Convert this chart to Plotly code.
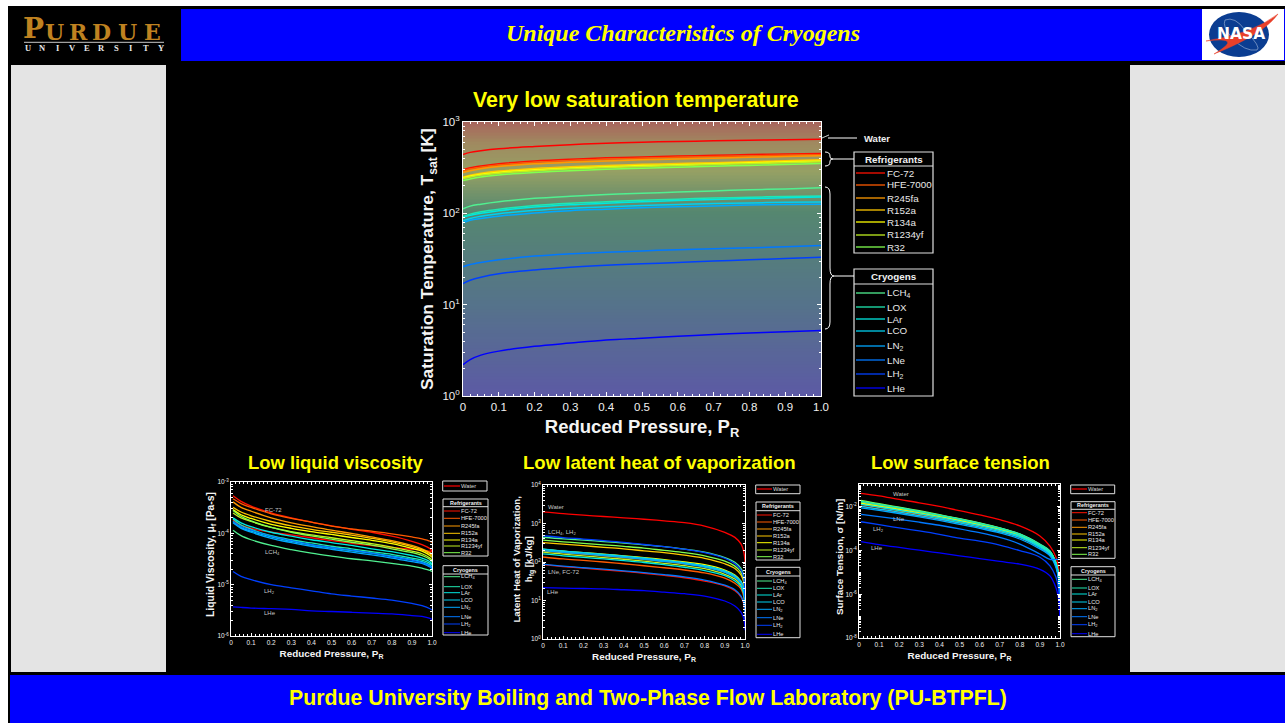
import numpy as np
import plotly.graph_objects as go

W, H = 1285, 723

# ---------- DATA ----------
names = ["Water", "FC-72", "HFE-7000", "R245fa", "R152a", "R134a", "R1234yf", "R32",
         "LCH<sub>4</sub>", "LOX", "LAr", "LCO", "LN<sub>2</sub>", "LNe", "LH<sub>2</sub>", "LHe"]
refrigerants = names[1:8]
cryogens = names[8:]
colors = ["#ff0000", "#ff1000", "#ff5a00", "#ff9a00", "#ffc800", "#ffff00", "#c0f020", "#80ff50",
          "#50f090", "#20e8b0", "#00e8e0", "#00d0f0", "#00a8ff", "#0078ff", "#0040ff", "#0000ff"]

x_ticks = [0, 0.1, 0.2, 0.3, 0.4, 0.5, 0.6, 0.7, 0.8, 0.9, 1.0]
x_labels = ["0", "0.1", "0.2", "0.3", "0.4", "0.5", "0.6", "0.7", "0.8", "0.9", "1.0"]

# Saturation temperature [K]
pr_t = [0, 0.02, 0.05, 0.1, 0.2, 0.3, 0.4, 0.5, 0.6, 0.7, 0.8, 0.9, 1.0]
t_water = [440, 465, 485, 510, 540, 565, 585, 600, 612, 622, 632, 640, 647]
t_fc72 = [300, 315, 330, 350, 375, 392, 405, 415, 424, 432, 440, 446, 451]
t_hfe = [290, 305, 320, 338, 362, 378, 392, 402, 410, 418, 425, 432, 438]
t_r245 = [280, 293, 308, 325, 348, 363, 375, 385, 394, 402, 410, 419, 427]
t_r152 = [250, 262, 275, 290, 310, 324, 335, 344, 352, 359, 368, 377, 386]
t_r134 = [245, 256, 268, 282, 300, 313, 324, 333, 341, 349, 358, 366, 374]
t_r1234 = [240, 250, 262, 275, 293, 307, 317, 326, 334, 342, 350, 358, 367]
t_r32 = [228, 238, 250, 263, 280, 293, 303, 311, 319, 327, 335, 343, 351]
t_lch4 = [112, 120, 126, 134, 146, 154, 161, 166, 171, 176, 181, 185, 190]
t_lox = [92, 98, 104, 111, 122, 129, 134, 139, 143, 147, 150, 153, 155]
t_lar = [90, 95, 100, 107, 117, 124, 129, 134, 138, 142, 145, 148, 151]
t_lco = [83, 88, 93, 99, 108, 114, 118, 122, 125, 128, 130, 132, 133]
t_ln2 = [79, 84, 88, 93, 101, 107, 111, 115, 118, 120, 123, 125, 126]
t_lne = [26, 27.5, 29, 31, 34, 36, 37.5, 38.8, 40, 41, 42, 43, 44.4]
t_lh2 = [17, 18.5, 20, 21.8, 24, 25.7, 27, 28, 29, 30, 31, 32, 33]
t_lhe = [2.2, 2.5, 2.8, 3.1, 3.5, 3.8, 4.1, 4.3, 4.5, 4.7, 4.9, 5.05, 5.2]
tsat = [t_water, t_fc72, t_hfe, t_r245, t_r152, t_r134, t_r1234, t_r32,
        t_lch4, t_lox, t_lar, t_lco, t_ln2, t_lne, t_lh2, t_lhe]

# Liquid viscosity [1e-4 Pa s]
pr_v = [0.01, 0.05, 0.1, 0.2, 0.3, 0.4, 0.5, 0.6, 0.7, 0.8, 0.9, 0.95, 0.99, 1.0]
v_water = [1.8, 1.45, 1.25, 1.05, 0.93, 0.82, 0.72, 0.64, 0.58, 0.53, 0.49, 0.47, 0.45, 0.44]
v_fc72 = [5.4, 4.2, 3.4, 2.5, 2.0, 1.65, 1.4, 1.2, 1.05, 0.88, 0.7, 0.6, 0.5, 0.45]
v_hfe = [4.7, 3.8, 3.2, 2.4, 1.95, 1.65, 1.38, 1.22, 1.1, 0.98, 0.85, 0.78, 0.7, 0.66]
v_r245 = [4.1, 3.2, 2.7, 2.0, 1.6, 1.35, 1.15, 1.0, 0.85, 0.72, 0.58, 0.5, 0.42, 0.39]
v_r152 = [3.2, 2.6, 2.2, 1.7, 1.4, 1.2, 1.05, 0.92, 0.8, 0.68, 0.55, 0.48, 0.4, 0.37]
v_r134 = [2.9, 2.3, 1.95, 1.5, 1.25, 1.08, 0.95, 0.83, 0.73, 0.63, 0.51, 0.45, 0.37, 0.34]
v_r1234 = [2.5, 2.0, 1.7, 1.3, 1.08, 0.93, 0.82, 0.72, 0.63, 0.54, 0.45, 0.4, 0.33, 0.3]
v_r32 = [2.8, 2.15, 1.75, 1.3, 1.05, 0.89, 0.77, 0.67, 0.59, 0.5, 0.42, 0.37, 0.31, 0.28]
v_lch4 = [1.15, 0.9, 0.75, 0.58, 0.48, 0.41, 0.36, 0.32, 0.29, 0.26, 0.23, 0.21, 0.19, 0.18]
v_lox = [1.9, 1.45, 1.2, 0.9, 0.75, 0.65, 0.56, 0.5, 0.44, 0.39, 0.33, 0.3, 0.26, 0.24]
v_lar = [2.0, 1.6, 1.35, 1.05, 0.88, 0.75, 0.66, 0.58, 0.5, 0.44, 0.37, 0.33, 0.28, 0.25]
v_lco = [1.7, 1.3, 1.1, 0.85, 0.7, 0.6, 0.52, 0.46, 0.41, 0.36, 0.31, 0.28, 0.24, 0.22]
v_ln2 = [1.6, 1.25, 1.05, 0.8, 0.66, 0.56, 0.49, 0.43, 0.38, 0.33, 0.28, 0.26, 0.22, 0.2]
v_lne = [1.7, 1.35, 1.15, 0.88, 0.72, 0.6, 0.53, 0.47, 0.41, 0.35, 0.3, 0.27, 0.23, 0.21]
v_lh2 = [0.18, 0.145, 0.125, 0.1, 0.087, 0.076, 0.066, 0.06, 0.055, 0.05, 0.043, 0.039, 0.034, 0.032]
v_lhe = [0.037, 0.036, 0.035, 0.034, 0.033, 0.031, 0.03, 0.029, 0.028, 0.027, 0.025, 0.024, 0.022, 0.021]
visc = [v_water, v_fc72, v_hfe, v_r245, v_r152, v_r134, v_r1234, v_r32,
        v_lch4, v_lox, v_lar, v_lco, v_ln2, v_lne, v_lh2, v_lhe]

# Latent heat [kJ/kg]
pr_h = [0, 0.1, 0.2, 0.3, 0.4, 0.5, 0.6, 0.7, 0.8, 0.9, 0.95, 0.98, 0.99, 0.995, 0.999, 1.0]
h_water = [2000, 1800, 1650, 1520, 1400, 1290, 1170, 1050, 860, 590, 436, 295, 220, 170, 120, 100]
h_fc72 = [85, 76, 69, 63, 57, 51, 45, 39, 32, 24, 18, 12.5, 9.5, 7.5, 5, 3]
h_hfe = [135, 120, 110, 100, 90, 80, 71, 62, 52, 38, 28, 20, 15, 12, 7, 4.5]
h_r245 = [195, 175, 160, 145, 130, 118, 104, 90, 76, 55, 41, 29, 22, 17, 10, 6]
h_r152 = [320, 290, 265, 240, 220, 195, 175, 150, 125, 90, 68, 46, 35, 28, 15, 10]
h_r134 = [215, 190, 175, 160, 145, 130, 115, 100, 85, 62, 46, 32, 24, 19, 12, 7]
h_r1234 = [180, 160, 145, 130, 118, 105, 92, 80, 67, 48, 36, 25, 19, 15, 9, 6]
h_r32 = [370, 335, 305, 280, 255, 230, 200, 175, 145, 105, 78, 54, 41, 32, 18, 12]
h_lch4 = [440, 400, 370, 340, 310, 280, 250, 215, 180, 130, 98, 68, 52, 41, 23, 15]
h_lox = [212, 190, 172, 155, 140, 125, 110, 95, 78, 57, 42, 30, 22, 18, 10, 6.5]
h_lar = [162, 145, 132, 120, 108, 97, 85, 73, 60, 44, 32, 23, 17, 14, 8, 5]
h_lco = [215, 192, 175, 158, 142, 126, 110, 96, 80, 59, 44, 31, 23, 18, 10, 7]
h_ln2 = [198, 178, 162, 147, 132, 118, 103, 90, 74, 54, 40, 28, 22, 17, 9, 6]
h_lne = [88, 78, 71, 65, 59, 53, 47, 41, 34, 25, 19, 13, 10, 8, 5, 3]
h_lh2 = [480, 430, 395, 360, 325, 285, 250, 215, 175, 125, 90, 62, 47, 37, 19, 12]
h_lhe = [21.5, 21, 20.5, 20, 19, 18, 16.5, 15, 13, 9.7, 7.2, 5, 3.9, 3.2, 2.2, 1.7]
latent = [h_water, h_fc72, h_hfe, h_r245, h_r152, h_r134, h_r1234, h_r32,
          h_lch4, h_lox, h_lar, h_lco, h_ln2, h_lne, h_lh2, h_lhe]

# Surface tension [1e-3 N/m]
pr_s = [0.01, 0.1, 0.2, 0.3, 0.4, 0.5, 0.6, 0.7, 0.8, 0.9, 0.95, 0.98, 0.99, 0.995, 0.999, 1.0]
s_water = [42, 32, 22, 15.5, 10.5, 6.8, 4.3, 2.6, 1.35, 0.47, 0.16, 0.05, 0.022, 0.011, 0.0045, 0.004]
s_fc72 = [11, 8, 5.6, 3.9, 2.7, 1.85, 1.2, 0.75, 0.4, 0.14, 0.066, 0.02, 0.008, 0.004, 0.001, 0.0005]
s_hfe = [13, 9.5, 6.7, 4.6, 3.1, 2.1, 1.35, 0.82, 0.43, 0.15, 0.07, 0.021, 0.009, 0.004, 0.001, 0.0005]
s_r245 = [14, 10.2, 7.2, 5, 3.4, 2.3, 1.45, 0.9, 0.47, 0.16, 0.077, 0.022, 0.009, 0.004, 0.0011, 0.0006]
s_r152 = [15, 11, 7.8, 5.4, 3.6, 2.4, 1.55, 0.95, 0.5, 0.17, 0.084, 0.024, 0.01, 0.0045, 0.0012, 0.0006]
s_r134 = [14.5, 10.5, 7.5, 5.2, 3.5, 2.35, 1.5, 0.92, 0.48, 0.165, 0.08, 0.022, 0.009, 0.0042, 0.0011, 0.0006]
s_r1234 = [17, 12.2, 8.6, 5.9, 4, 2.65, 1.7, 1.02, 0.53, 0.18, 0.087, 0.025, 0.011, 0.0046, 0.0012, 0.0007]
s_r32 = [20, 14, 9.8, 6.7, 4.4, 2.9, 1.85, 1.1, 0.57, 0.19, 0.092, 0.027, 0.011, 0.005, 0.0012, 0.0007]
s_lch4 = [17, 12.5, 9, 6.2, 4.2, 2.8, 1.8, 1.1, 0.58, 0.2, 0.098, 0.028, 0.012, 0.005, 0.0012, 0.0008]
s_lox = [18, 13, 9.2, 6.3, 4.2, 2.75, 1.75, 1.05, 0.55, 0.19, 0.091, 0.027, 0.011, 0.005, 0.0012, 0.0007]
s_lar = [13, 9.8, 7, 4.9, 3.3, 2.2, 1.42, 0.87, 0.46, 0.16, 0.077, 0.022, 0.0095, 0.004, 0.0011, 0.0006]
s_lco = [10.5, 8, 5.8, 4, 2.8, 1.85, 1.2, 0.75, 0.4, 0.14, 0.066, 0.02, 0.008, 0.0036, 0.001, 0.0005]
s_ln2 = [9, 6.9, 5, 3.5, 2.4, 1.6, 1.05, 0.65, 0.34, 0.12, 0.058, 0.017, 0.007, 0.0032, 0.0009, 0.0005]
s_lne = [4.6, 3.6, 2.7, 2, 1.45, 1.0, 0.66, 0.4, 0.2, 0.07, 0.04, 0.04, 0.04, 0.04, 0.04, 0.04]
s_lh2 = [2.1, 1.55, 1.1, 0.8, 0.56, 0.37, 0.27, 0.18, 0.1, 0.05, 0.02, 0.006, 0.0025, 0.0011, 0.0003, 0.0002]
s_lhe = [0.26, 0.19, 0.14, 0.105, 0.078, 0.058, 0.043, 0.032, 0.024, 0.014, 0.007, 0.002, 0.0009, 0.0004, 0.0001, 0.00008]
sigma = [s_water, s_fc72, s_hfe, s_r245, s_r152, s_r134, s_r1234, s_r32,
         s_lch4, s_lox, s_lar, s_lco, s_ln2, s_lne, s_lh2, s_lhe]

# Background gradient of the main chart: exponent -> colour
grad_stops = [(0.0, "#5c5aa5"), (0.34, "#55738a"), (0.67, "#558770"), (0.82, "#96a064"),
              (0.92, "#a08a60"), (1.0, "#a8645c")]
grad_exp = list(np.linspace(0, 3, 91))

FONT = "Liberation Sans"


def px(x):
    return x / W


def py(y):
    return 1 - y / H


shapes = []
ann = []


def rect(x0, y0, x1, y1, fill, line=None, lw=1):
    shapes.append(dict(type="rect", xref="paper", yref="paper", layer="below",
                       x0=px(x0), x1=px(x1), y0=py(y0), y1=py(y1), fillcolor=fill,
                       line=dict(color=line or fill, width=lw if line else 0)))


def seg(x0, y0, x1, y1, col="white", lw=1, layer="above"):
    shapes.append(dict(type="line", xref="paper", yref="paper", layer=layer,
                       x0=px(x0), x1=px(x1), y0=py(y0), y1=py(y1), line=dict(color=col, width=lw)))


def path(pts_cmd, col="white", lw=1, fill=None, layer="above"):
    # pts_cmd: list of (cmd, [(x, y), ...]) in page pixels
    s = ""
    for cmd, pts in pts_cmd:
        s += cmd + " " + " ".join(f"{px(a):.5f},{py(b):.5f}" for a, b in pts) + " "
    if fill:
        s += "Z"
    shapes.append(dict(type="path", xref="paper", yref="paper", layer=layer, path=s,
                       fillcolor=fill or "rgba(0,0,0,0)",
                       line=dict(color=col, width=lw)))


def text(x, y, t, size=11, col="white", family=FONT, anchor="center", yanchor="middle", angle=0):
    ann.append(dict(xref="paper", yref="paper", x=px(x), y=py(y), text=t, showarrow=False,
                    font=dict(family=family, size=size, color=col), xanchor=anchor, yanchor=yanchor,
                    textangle=angle, borderpad=0, borderwidth=0))


# ---------- PAGE ----------
rect(8, 6, W, H, "#000000")
rect(181, 9, W, 61, "#0000ff")
rect(1202, 9, W - 1, 60, "#ffffff")
rect(10, 675, W, H, "#0000ff")
rect(11, 65, 166, 672, "#e4e4e4")
rect(1130, 65, W, 672, "#e4e4e4")

text(683, 33, "<b><i>Unique Characteristics of Cryogens</i></b>", 24, "#ffff00", "Liberation Serif")
text(647.5, 698, "<b>Purdue University Boiling and Two-Phase Flow Laboratory (PU-BTPFL)</b>", 21.3, "#ffff00")

# Purdue wordmark
GOLD = "#bf8220"
for lx, ch, sz in [(33, "P", 28), (54, "U", 22), (78, "R", 22), (101, "D", 22), (127, "U", 22), (152, "E", 22)]:
    text(lx, 45, "<b>" + ch + "</b>", sz, GOLD, "DejaVu Serif", yanchor="bottom")
for i, ch in enumerate("UNIVERSITY"):
    text(28 + i * 14.75, 48, "<b>" + ch + "</b>", 8.5, "#e8e8e8", "Liberation Serif")
seg(24, 42.3, 164, 42.3, "#a0a0a0", 1.2)

# NASA logo
shapes.append(dict(type="circle", xref="paper", yref="paper", x0=px(1209), x1=px(1269), y0=py(57), y1=py(12),
                   fillcolor="#0b3d91", line=dict(width=0)))
path([("M", [(1225, 20)]), ("Q", [(1235, 16), (1245, 30)]), ("Q", [(1262, 48), (1257, 50)]),
      ("Q", [(1245, 52), (1232, 38)]), ("Q", [(1222, 26), (1225, 20)])], "#a8bcdc", 0.6)
path([("M", [(1206, 41)]), ("Q", [(1252, 34), (1278, 14)]), ("Q", [(1264, 34), (1214, 54)]),
      ("Q", [(1245, 36), (1206, 41)])], "#e8402a", 0.5, "#e8402a")
text(1240.5, 34, "<b>NASA</b>", 15.5, "white", "DejaVu Sans")


# ---------- CHARTS ----------
def ax_common(dom, anchor, size):
    return dict(domain=dom, anchor=anchor, showgrid=False, zeroline=False, showline=True, automargin=False,
                linecolor="white", linewidth=1, mirror="allticks", ticks="inside",
                tickcolor="white", color="white", tickfont=dict(family=FONT, size=size, color="#f0f0f0"))


fig = go.Figure()

layouts = {}


def chart(idx, box, xs, series, yrange, ytvals, ytext, xtitle_size, tick_size, xstand, shape, lw):
    x0, y0, x1, y1 = box
    s = "" if idx == 1 else str(idx)
    xa = ax_common([px(x0), px(x1)], "y" + s, tick_size)
    xa.update(range=[0, 1], tickvals=x_ticks, ticktext=x_labels, ticklen=4 if idx == 1 else 3,
              title=dict(text="<b>Reduced Pressure, P<sub>R</sub></b>", standoff=xstand,
                         font=dict(family=FONT, size=xtitle_size, color="#f4f4f4")),
              minor=dict(ticks="inside", ticklen=2, tickcolor="white", dtick=0.02))
    ya = ax_common([py(y1), py(y0)], "x" + s, tick_size)
    ya.update(type="log", range=yrange, tickvals=ytvals, ticktext=ytext, ticklen=4 if idx == 1 else 3,
              minor=dict(ticks="inside", ticklen=2, tickcolor="white", dtick="D1"))
    layouts["xaxis" + s] = xa
    layouts["yaxis" + s] = ya
    for nm, col, vals in zip(names, colors, series):
        fig.add_trace(go.Scatter(x=xs, y=vals, mode="lines", name=nm.replace("<sub>", "").replace("</sub>", ""),
                                 line=dict(color=col, width=lw, shape=shape), showlegend=False,
                                 xaxis="x" + s, yaxis="y" + s, cliponaxis=True))


# Main gradient
fig.add_trace(go.Heatmap(x=[0, 1], y=[10 ** e for e in grad_exp],
                         z=[[e / 3, e / 3] for e in grad_exp], zmin=0, zmax=1,
                         colorscale=[[a, c] for a, c in grad_stops], showscale=False,
                         xaxis="x", yaxis="y", hoverinfo="skip"))

chart(1, (463, 122, 821, 396), pr_t, tsat, [0, 3], [1, 10, 100, 1000],
      ["10<sup>0</sup>", "10<sup>1</sup>", "10<sup>2</sup>", "10<sup>3</sup>"], 18.5, 11.5, 8, "spline", 1.5)

chart(2, (231, 482, 432, 636), pr_v,
      [[v * 1e-4 for v in c] for c in visc], [-6, -3], [1e-6, 1e-5, 1e-4, 1e-3],
      ["10<sup>-6</sup>", "10<sup>-5</sup>", "10<sup>-4</sup>", "10<sup>-3</sup>"], 9.9, 6.5, 5, "spline", 1.3)

chart(3, (543, 485, 745, 639), pr_h, latent, [0, 4], [1, 10, 100, 1000, 10000],
      ["10<sup>0</sup>", "10<sup>1</sup>", "10<sup>2</sup>", "10<sup>3</sup>", "10<sup>4</sup>"],
      9.9, 6.5, 5, "spline", 1.3)

chart(4, (859, 484, 1060, 638), pr_s, [[v * 1e-3 for v in c] for c in sigma], [-8, -0.95],
      [1e-8, 1e-6, 1e-4, 1e-2],
      ["10<sup>-8</sup>", "10<sup>-6</sup>", "10<sup>-4</sup>", "10<sup>-2</sup>"], 9.9, 6.5, 5, "spline", 1.3)

# Y axis titles
YT = "#f4f4f4"
text(428, 259, "<b>Saturation Temperature, T<sub>sat</sub> [K]</b>", 17.4, YT, angle=-90)
text(211, 555, "<b>Liquid Viscosity, μ<sub>f</sub> [Pa-s]</b>", 10.4, YT, angle=-90)
text(522.5, 559, "<b>Latent Heat of Vaporization,<br>h<sub>fg</sub> [kJ/kg]</b>", 9.6, YT, angle=-90)
text(839, 557, "<b>Surface Tension, σ [N/m]</b>", 9.9, YT, angle=-90)

# Titles
text(636, 100, "<b>Very low saturation temperature</b>", 21.4, "#ffff00")
text(335.5, 463, "<b>Low liquid viscosity</b>", 18.4, "#ffff00")
text(660, 463, "<b>Low latent heat of vaporization</b>", 18.6, "#ffff00")
text(960.5, 463, "<b>Low surface tension</b>", 18.5, "#ffff00")

# Curve labels in the small charts
LBL = "#c8c8c8"
for x, y, t in [(273, 510, "FC-72"), (272, 552, "LCH<sub>4</sub>"), (269, 591, "LH<sub>2</sub>"), (270, 612.7, "LHe"),
                (556, 507, "Water"), (562, 532, "LCH<sub>4</sub>, LH<sub>2</sub>"), (564, 572, "LNe, FC-72"),
                (553, 592, "LHe"),
                (901, 494, "Water"), (899, 519, "LNe"), (878, 529, "LH<sub>2</sub>"), (877, 548, "LHe")]:
    text(x, y, t, 6, LBL)


# ---------- LEGENDS ----------
def legend_box(x0, y0, x1, y1, div, title, labels, cols, rows, lx0, lx1, tx, size, title_size, lw, border):
    shapes.append(dict(type="rect", xref="paper", yref="paper", x0=px(x0), x1=px(x1), y0=py(y0), y1=py(y1),
                       fillcolor="black", line=dict(color="#e0e0e0", width=border)))
    seg(x0, div, x1, div, "#e0e0e0", border)
    text((x0 + x1) / 2, (y0 + div) / 2, "<b>" + title + "</b>", title_size, "#f0f0f0")
    for lab, col, ry in zip(labels, cols, rows):
        seg(lx0, ry, lx1, ry, col, lw)
        text(tx, ry, lab, size, "#e8e8e8", anchor="left")


legend_box(854, 152, 933, 253, 166, "Refrigerants", refrigerants, colors[1:8],
           [173, 185, 198, 210, 222, 235, 247], 856, 885, 887, 9.8, 9.8, 1.3, 1.2)
legend_box(854, 269, 933, 396, 284, "Cryogens", cryogens, colors[8:],
           [293, 307, 319, 331, 346, 360, 374, 388], 856, 885, 887, 9.8, 9.8, 1.3, 1.2)

small = [
    (442.7, 487, 481, 491, (443, 488, 499, 556, 506.7), [511, 518.3, 526, 533.3, 540, 546, 552.7],
     (443, 488, 565.7, 635, 574), [576.7, 586.7, 592.7, 600, 607.3, 616.7, 624, 632.7], 444, 460, 461, 486),
    (755.7, 800, 485, 493.7, (756, 800, 502, 560, 510.7), [515, 522, 529, 536, 542.7, 550, 556.7],
     (756, 800, 567.3, 637.7, 576), [581, 588.3, 595, 602, 609.3, 617.7, 625.3, 634.3], 757, 772, 773, 489),
    (1070.7, 1114.7, 485, 493.7, (1071, 1115, 501.7, 558.3, 509.3), [512.7, 520, 527.3, 534, 540, 547.7, 554.3],
     (1071, 1115, 566.7, 636.7, 575), [579.3, 588, 594, 602, 608.7, 616.7, 624.7, 633.7], 1072, 1087, 1088, 489),
]
for wx0, wx1, wy0, wy1, rb, rrows, cb, crows, lx0, lx1, tx, wy in small:
    shapes.append(dict(type="rect", xref="paper", yref="paper", x0=px(wx0), x1=px(wx1), y0=py(wy0), y1=py(wy1),
                       fillcolor="black", line=dict(color="#e0e0e0", width=1)))
    seg(lx0, wy, lx1, wy, colors[0], 1.2)
    text(tx, wy, "Water", 5.8, "#d8d8d8", anchor="left")
    legend_box(rb[0], rb[2], rb[1], rb[3], rb[4], "Refrigerants", refrigerants, colors[1:8], rrows,
               lx0, lx1, tx, 5.7, 5.4, 1, 1)
    legend_box(cb[0], cb[2], cb[1], cb[3], cb[4], "Cryogens", cryogens, colors[8:], crows,
               lx0, lx1, tx, 5.7, 5.4, 1, 1)

# Water pointer and braces of the main chart
text(864, 138, "<b>Water</b>", 9.5, "#f0f0f0", anchor="left")
seg(828, 138, 857, 138, "white", 1)
path([("M", [(822, 138)]), ("L", [(829, 135), (829, 141)])], "white", 0.5, "white")
path([("M", [(825, 152)]), ("Q", [(830, 152), (830, 156)]), ("L", [(830, 157)]), ("Q", [(830, 159), (833, 159)]),
      ("Q", [(830, 159), (830, 161)]), ("L", [(830, 162)]), ("Q", [(830, 166), (825, 166)])], "white", 1)
seg(833, 159, 854, 159, "white", 1)
path([("M", [(825, 187)]), ("Q", [(830, 187), (830, 194)]), ("L", [(830, 268)]), ("Q", [(830, 276), (834, 276)]),
      ("Q", [(830, 276), (830, 284)]), ("L", [(830, 322)]), ("Q", [(830, 329), (825, 329)])], "white", 1)
seg(834, 276, 854, 276, "white", 1)

fig.update_layout(width=W, height=H, autosize=False, margin=dict(l=0, r=0, t=0, b=0, pad=0),
                  paper_bgcolor="white", plot_bgcolor="rgba(0,0,0,0)", shapes=shapes, annotations=ann,
                  showlegend=False, font=dict(family=FONT, color="white"), **layouts)

fig.write_html("out.html", config={"displayModeBar": False},
               post_script="document.body.style.margin='0';document.body.style.overflow='hidden';")
